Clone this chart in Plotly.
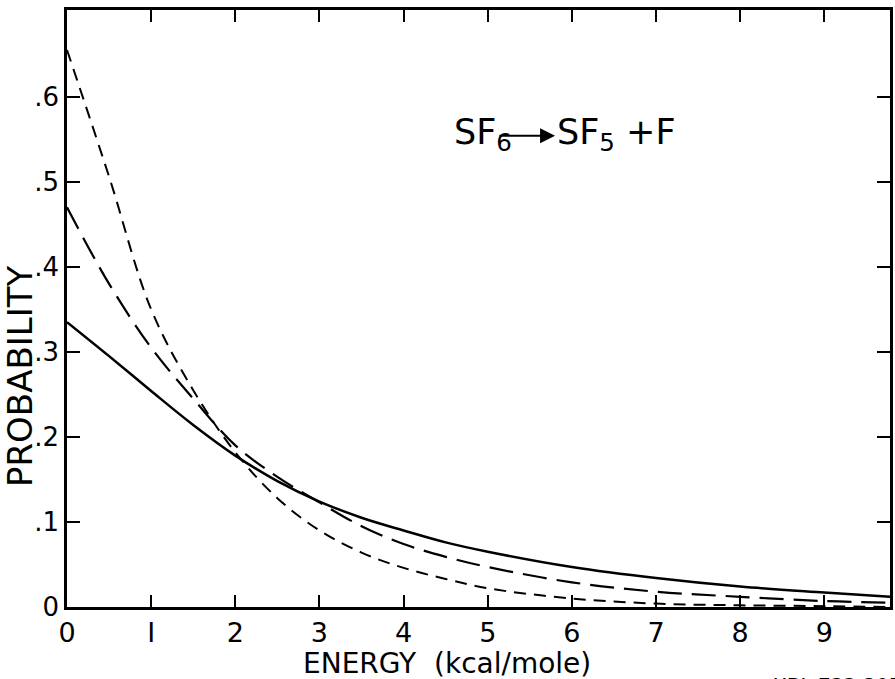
import plotly.graph_objects as go

# Energy grid (kcal/mole)
energy = [0, 0.5, 1, 1.5, 2, 2.5, 3, 3.5, 4, 4.5, 5, 6, 7, 8, 9, 9.78]
# Solid curve
p_solid = [0.335, 0.295, 0.254, 0.214, 0.178, 0.148, 0.124, 0.105, 0.090, 0.076, 0.065, 0.047, 0.034, 0.024, 0.017, 0.012]
# Long-dashed curve
p_longdash = [0.470, 0.380, 0.305, 0.245, 0.190, 0.153, 0.123, 0.095, 0.074, 0.059, 0.047, 0.029, 0.018, 0.012, 0.007, 0.005]
# Short-dashed curve
p_shortdash = [0.655, 0.506, 0.350, 0.255, 0.182, 0.128, 0.090, 0.064, 0.046, 0.033, 0.022, 0.010, 0.004, 0.002, 0.001, 0.0]

x_ticks = [0, 1, 2, 3, 4, 5, 6, 7, 8, 9]
x_ticktext = ["0", "I", "2", "3", "4", "5", "6", "7", "8", "9"]
y_ticks = [0, 0.1, 0.2, 0.3, 0.4, 0.5, 0.6]
y_ticktext = ["0", ".1", ".2", ".3", ".4", ".5", ".6"]

FONT = "DejaVu Sans"

fig = go.Figure()
fig.add_trace(go.Scatter(x=energy, y=p_solid, mode="lines", line=dict(color="black", width=2.5, shape="spline")))
fig.add_trace(go.Scatter(x=energy, y=p_longdash, mode="lines", line=dict(color="black", width=2.2, dash="24px,10px", shape="spline")))
fig.add_trace(go.Scatter(x=energy, y=p_shortdash, mode="lines", line=dict(color="black", width=2.0, dash="12px,8px", shape="spline")))

fig.update_layout(
    width=895, height=679,
    margin=dict(l=67, r=2, t=10, b=72),
    paper_bgcolor="white", plot_bgcolor="white",
    showlegend=False,
    font=dict(family=FONT, color="black"),
    xaxis=dict(range=[0, 9.78], tickvals=x_ticks, ticktext=x_ticktext, ticks="inside", ticklen=12,
               tickwidth=2, tickcolor="black", showline=True, linewidth=2.5, linecolor="black",
               mirror="allticks", showgrid=False, zeroline=False, tickfont=dict(size=27, family=FONT),
               ticklabelstandoff=0),
    yaxis=dict(range=[0, 0.702], tickvals=y_ticks, ticktext=y_ticktext, ticks="inside", ticklen=13,
               tickwidth=2, tickcolor="black", showline=True, linewidth=2.5, linecolor="black",
               mirror="allticks", showgrid=False, zeroline=False, tickfont=dict(size=26, family=FONT)),
)

# Axis titles
fig.add_annotation(xref="paper", yref="paper", x=-0.057, y=0.387, text="PROBABILITY", textangle=-90,
                   showarrow=False, font=dict(size=34, family=FONT), xanchor="center", yanchor="middle")
fig.add_annotation(xref="paper", yref="paper", x=0.462, y=-0.0945, text="ENERGY  (kcal/mole)",
                   showarrow=False, font=dict(size=28, family=FONT), xanchor="center", yanchor="middle",
                   borderpad=0)

# Reaction label
fig.add_annotation(x=4.58, y=0.556, text="SF<sub>6</sub>", showarrow=False, xanchor="left", yanchor="middle",
                   font=dict(size=35, family=FONT))
fig.add_annotation(x=5.80, y=0.554, ax=5.12, ay=0.554, axref="x", ayref="y", text="", showarrow=True,
                   arrowhead=2, arrowsize=1.5, arrowwidth=2, arrowcolor="black")
fig.add_annotation(x=5.80, y=0.556, text="SF<sub>5</sub> +F", showarrow=False, xanchor="left", yanchor="middle",
                   font=dict(size=35, family=FONT))

# Figure code at bottom right (partly cut off, as in the reference)
fig.add_annotation(xref="paper", yref="paper", x=0.855, y=-0.108, text="XBL 733-2054", showarrow=False,
                   xanchor="left", yanchor="top", font=dict(size=20, family=FONT))

fig.write_html("out.html", config={"displayModeBar": False},
               post_script="document.body.style.margin='0';")
